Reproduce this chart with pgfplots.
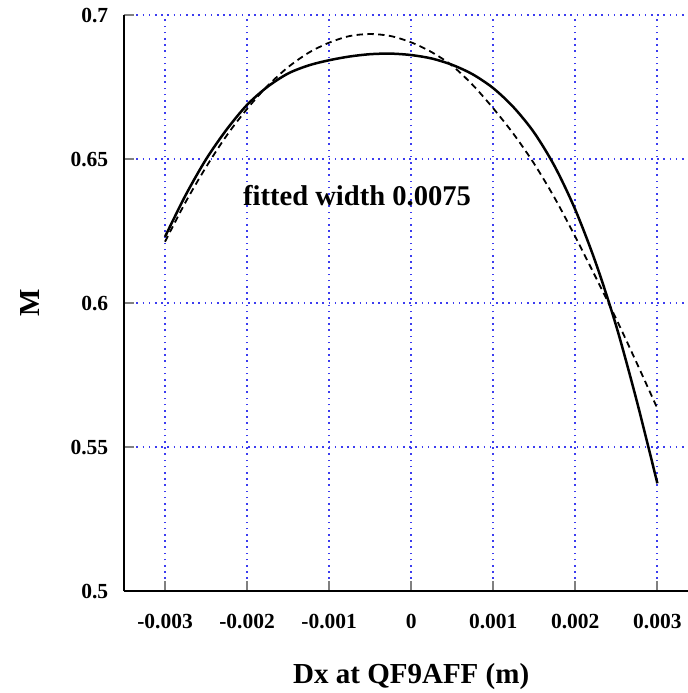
\documentclass[border=0pt]{standalone}
\usepackage{fontspec}
\setmainfont{Liberation Serif}
\usepackage{pgfplots}
\pgfplotsset{compat=1.18}
\definecolor{gridA}{RGB}{60,60,240}
\begin{document}
\begin{tikzpicture}
\begin{axis}[
  name=ax,
  at={(0,0)}, anchor=south west,
  scale only axis,
  width=287.2pt, height=288pt,
  xmin=-0.0035, xmax=0.0035,
  ymin=0.5, ymax=0.7,
  axis lines*=left,
  axis line style={line width=1pt},
  scaled x ticks=false, scaled y ticks=false,
  xtick={-0.003,-0.002,-0.001,0,0.001,0.002,0.003},
  xticklabels={-0.003,-0.002,-0.001,0,0.001,0.002,0.003},
  ytick={0.5,0.55,0.6,0.65,0.7},
  yticklabels={0.5,0.55,0.6,0.65,0.7},
  tick align=inside,
  major tick length=5pt,
  tick style={line width=1pt},
  tick label style={font=\fontsize{10.75}{12}\selectfont\bfseries},
  xticklabel style={yshift=-8pt},
  yticklabel style={xshift=-4.4pt},
  grid=major,
  major grid style={draw=gridA, line width=1pt, dash pattern=on 0.8pt off 2.3pt},
  xlabel={Dx at QF9AFF (m)},
  ylabel={M},
  label style={font=\fontsize{14.5}{16}\selectfont\bfseries},
  xlabel style={at={(axis description cs:0.5,-0.1132)}, anchor=north},
  ylabel style={at={(axis description cs:-0.1347,0.5)}, anchor=south},
  clip=false,
]
\addplot[black, line width=1.25pt, smooth] coordinates {
(-0.003,0.6231) (-0.00275,0.6375) (-0.0025,0.6500) (-0.00225,0.6603)
(-0.002,0.6689) (-0.00175,0.6752) (-0.0015,0.6798) (-0.00125,0.6826)
(-0.001,0.6844) (-0.00075,0.6857) (-0.0005,0.6865) (-0.00025,0.6867)
(0,0.6862) (0.00025,0.6850) (0.0005,0.6828) (0.00075,0.6795)
(0.001,0.6747) (0.00125,0.6680) (0.0015,0.6592) (0.00175,0.6475)
(0.002,0.6325) (0.00225,0.6140) (0.0025,0.5920) (0.00275,0.5660)
(0.003,0.5375)
};
\addplot[black, line width=0.9pt, dash pattern=on 3.2pt off 2.2pt, smooth] coordinates {
(-0.003,0.6214) (-0.00275,0.6351) (-0.0025,0.6473) (-0.00225,0.6582)
(-0.002,0.6675) (-0.00175,0.6755) (-0.0015,0.6820) (-0.00125,0.6870)
(-0.001,0.6905) (-0.00075,0.6928) (-0.0005,0.6935) (-0.00025,0.6928)
(0,0.6906) (0.00025,0.6872) (0.0005,0.6825) (0.00075,0.6758)
(0.001,0.6677) (0.00125,0.6587) (0.0015,0.6484) (0.00175,0.6365)
(0.002,0.6231) (0.00225,0.6090) (0.0025,0.5945) (0.00275,0.5792)
(0.003,0.5635)
};
\node[anchor=base, font=\fontsize{14.3}{16}\selectfont\bfseries, inner sep=0pt] at (axis cs:-0.00066,0.6338) {fitted width 0.0075};
\end{axis}
\pgfresetboundingbox
\path (ax.south west) ++(-62pt,-50.85pt) rectangle ++(344pt,346.5pt);
\end{tikzpicture}
\end{document}
